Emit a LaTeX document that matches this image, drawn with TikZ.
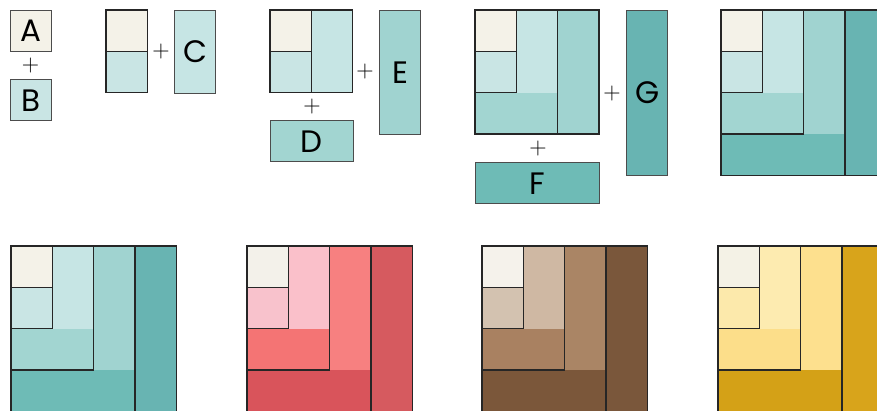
\documentclass[tikz,border=0pt]{standalone}
\usepackage{fontspec}
\newfontfamily\letterfont{Poppins}
\begin{document}
\begin{tikzpicture}[x=1pt,y=-1pt,
  cellline/.style={draw=black!85,line width=1.3pt},
  piece/.style={draw=black!70,line width=1.1pt},
  lettertext/.style={font=\letterfont\fontsize{31}{31}\selectfont,inner sep=0pt},
  plustext/.style={font=\fontsize{24}{24}\selectfont,inner sep=0pt}]
\def\s{41.3}
% teal
\definecolor{tA}{HTML}{F4F2E8}
\definecolor{tB}{HTML}{C9E5E4}
\definecolor{tC}{HTML}{C6E5E4}
\definecolor{tD}{HTML}{A2D5D1}
\definecolor{tE}{HTML}{A0D3D0}
\definecolor{tF}{HTML}{6EBBB6}
\definecolor{tG}{HTML}{68B4B2}
% red
\definecolor{rA}{HTML}{F3F1EA}
\definecolor{rB}{HTML}{F8C2CC}
\definecolor{rC}{HTML}{FAC0CA}
\definecolor{rD}{HTML}{F47474}
\definecolor{rE}{HTML}{F78080}
\definecolor{rF}{HTML}{D9545B}
\definecolor{rG}{HTML}{D65A5F}
% brown
\definecolor{bA}{HTML}{F5F2EB}
\definecolor{bB}{HTML}{D3C2B0}
\definecolor{bC}{HTML}{CFB8A3}
\definecolor{bD}{HTML}{A98161}
\definecolor{bE}{HTML}{AA8565}
\definecolor{bF}{HTML}{7B573A}
\definecolor{bG}{HTML}{7A573B}
% yellow
\definecolor{yA}{HTML}{F4F2E6}
\definecolor{yB}{HTML}{FCE9AB}
\definecolor{yC}{HTML}{FDEBB0}
\definecolor{yD}{HTML}{FCDE8A}
\definecolor{yE}{HTML}{FDE08E}
\definecolor{yF}{HTML}{D4A117}
\definecolor{yG}{HTML}{D8A41B}
\clip (0,0) rectangle (877,410);
\fill[white] (0,0) rectangle (877,410);
% a full square: origin x,y and colour prefix
\newcommand\quiltsq[3]{%
  \begin{scope}[shift={(#1,#2)}]
  \fill[#3A] (0,0) rectangle (\s,\s);
  \fill[#3B] (0,\s) rectangle (\s,2*\s);
  \fill[#3C] (\s,0) rectangle (2*\s,2*\s);
  \fill[#3D] (0,2*\s) rectangle (2*\s,3*\s);
  \fill[#3E] (2*\s,0) rectangle (3*\s,3*\s);
  \fill[#3F] (0,3*\s) rectangle (3*\s,4*\s);
  \fill[#3G] (3*\s,0) rectangle (4*\s,4*\s);
  \draw[cellline] (0,\s) -- (\s,\s);
  \draw[cellline] (\s,0) -- (\s,2*\s) -- (0,2*\s);
  \draw[cellline] (2*\s,0) -- (2*\s,3*\s) -- (0,3*\s);
  \draw[cellline] (3*\s,0) -- (3*\s,4*\s) -- (0,4*\s);
  \draw[cellline] (0,0) rectangle (4*\s,4*\s);
  \end{scope}}
% ---- top row ----
% A + B
\node[piece,fill=tA,minimum width=\s,minimum height=\s,anchor=north west,inner sep=0pt] (A) at (10,10) {};
\node[lettertext] at (A.center) {A};
\node[piece,fill=tB,minimum width=\s,minimum height=\s,anchor=north west,inner sep=0pt] (B) at (10,79) {};
\node[lettertext] at (B.center) {B};
\node[plustext] (p1) at (30.5,66) {+};
% AB + C
\fill[tA] (106,10) rectangle ++(\s,\s);
\fill[tB] (106,10+\s) rectangle ++(\s,\s);
\draw[cellline] (106,10+\s) -- ++(\s,0);
\draw[cellline] (106,10) rectangle ++(\s,2*\s);
\node[plustext] (p2) at (161,52) {+};
\node[piece,fill=tC,minimum width=\s,minimum height=2*\s,anchor=north west,inner sep=0pt] (C) at (174,10) {};
\node[lettertext] at (C.center) {C};
% ABC + D + E
\begin{scope}[shift={(270,10)}]
  \fill[tA] (0,0) rectangle (\s,\s);
  \fill[tB] (0,\s) rectangle (\s,2*\s);
  \fill[tC] (\s,0) rectangle (2*\s,2*\s);
  \draw[cellline] (0,\s) -- (\s,\s);
  \draw[cellline] (\s,0) -- (\s,2*\s);
  \draw[cellline] (0,0) rectangle (2*\s,2*\s);
\end{scope}
\node[plustext] (p3) at (365,72) {+};
\node[plustext] (p4) at (312,107) {+};
\node[piece,fill=tE,minimum width=\s,minimum height=3*\s,anchor=north west,inner sep=0pt] (E) at (379,10) {};
\node[lettertext] at (E.center) {E};
\node[piece,fill=tD,minimum width=2*\s,minimum height=\s,anchor=north west,inner sep=0pt] (D) at (270,120) {};
\node[lettertext] at (D.center) {D};
% ABCDE + F + G
\begin{scope}[shift={(475,10)}]
  \fill[tA] (0,0) rectangle (\s,\s);
  \fill[tB] (0,\s) rectangle (\s,2*\s);
  \fill[tC] (\s,0) rectangle (2*\s,2*\s);
  \fill[tD] (0,2*\s) rectangle (2*\s,3*\s);
  \fill[tE] (2*\s,0) rectangle (3*\s,3*\s);
  \draw[cellline] (0,\s) -- (\s,\s);
  \draw[cellline] (\s,0) -- (\s,2*\s) -- (0,2*\s);
  \draw[cellline] (2*\s,0) -- (2*\s,3*\s);
  \draw[cellline] (0,0) rectangle (3*\s,3*\s);
\end{scope}
\node[plustext] (p5) at (612,94) {+};
\node[plustext] (p6) at (538,149) {+};
\node[piece,fill=tG,minimum width=\s,minimum height=4*\s,anchor=north west,inner sep=0pt] (G) at (626,10) {};
\node[lettertext] at (G.center) {G};
\node[piece,fill=tF,minimum width=3*\s,minimum height=\s,anchor=north west,inner sep=0pt] (F) at (475,162) {};
\node[lettertext] at (F.center) {F};
% full teal
\quiltsq{721}{10}{t}
% ---- bottom row ----
\quiltsq{11}{246}{t}
\quiltsq{247}{246}{r}
\quiltsq{482}{246}{b}
\quiltsq{718}{246}{y}
\end{tikzpicture}
\end{document}
